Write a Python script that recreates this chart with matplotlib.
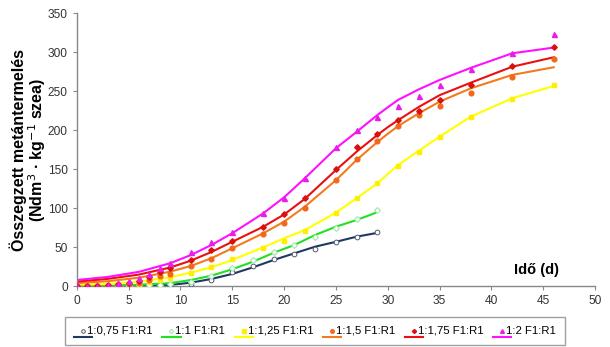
import matplotlib
matplotlib.use('Agg')
import matplotlib.pyplot as plt
from matplotlib.lines import Line2D
from matplotlib.legend_handler import HandlerBase

plt.rcParams['font.family'] = ['Liberation Sans', 'DejaVu Sans']

# measured points (days, cumulative methane)
days_a = [0, 1, 2, 3, 4, 5, 6, 7, 8, 9, 11, 13, 15, 17, 19, 21, 23, 25, 27, 29]
blue_pts = [0, 0, 0, 0, 0, 0, 0, 0.3, 0.5, 1, 2.5, 8, 18.3, 26.4, 35, 41.4, 47.8, 56.4, 62.8, 70]
green_pts = [0, 0, 0, 0, 0.3, 0.5, 1, 1.5, 2, 3, 5, 13, 24, 33.7, 44, 53, 63, 75, 86, 98]

days_b = [0, 1, 2, 3, 4, 5, 6, 7, 8, 9, 11, 13, 15, 18, 20, 22, 25, 27, 29, 31, 33, 35, 38, 42, 46]
yellow_pts = [0, 0, 0, 0.5, 1, 1.5, 3, 5, 8, 10, 17.5, 24.4, 35, 49.5, 58.5, 71, 94.5, 113, 132, 154, 172, 191.8, 216.7, 239.7, 258]
orange_pts = [0, 0, 0, 0.5, 1.5, 2.5, 4, 8, 13, 15.8, 26, 35.4, 48.7, 67, 81.5, 100, 136, 163, 186, 206, 219.6, 231, 248, 268.7, 291]
red_pts = [0, 0, 0, 1, 2.5, 4.6, 7.2, 12.3, 18.7, 23, 33.7, 46.5, 58, 76.4, 92.3, 112.8, 150, 178, 195, 213, 225, 238.8, 258.5, 282, 306.8]
magenta_pts = [0, 0, 0, 1.5, 4.6, 6.8, 10, 15.8, 23, 30, 44, 57, 69, 94.4, 112.8, 138.5, 179, 201, 216.7, 230.8, 243.6, 257.7, 278, 299.5, 323]

# fitted curves
fit_a = [0, 3, 6, 9, 11, 13, 15, 17, 19, 21, 23, 25, 27, 28.8]
blue_fit = [0, 0.3, 1, 1.7, 4.6, 9.4, 15.8, 24.3, 33.7, 42.3, 50.8, 57, 63.6, 68]
green_fit = [0, 0.5, 2, 4, 8, 13.6, 21.8, 31.5, 43, 53, 65.8, 76.4, 85, 94]

fit_b = [0, 3, 6, 9, 11, 13, 15, 18, 20, 22, 25, 27, 29, 30, 31, 33, 35, 38, 42, 46]
yellow_fit = [1.7, 3, 6, 11.5, 17.5, 24.3, 33.7, 50, 61.5, 72, 94.4, 112.8, 132, 144, 155.5, 173.8, 191.8, 217.4, 241, 256.8]
orange_fit = [4, 6.5, 11, 18.7, 26, 36, 48.7, 68, 82.8, 102, 136, 162, 185, 195.5, 205.5, 221.8, 236.7, 253.8, 271, 280.8]
red_fit = [6, 9.5, 15, 24, 32.8, 44, 57, 76.4, 92, 112, 149, 172.6, 194, 204, 213, 230, 245, 261, 281.5, 293.6]
magenta_fit = [8, 12, 18.5, 29.5, 40, 53, 68, 93.6, 114, 138.5, 177, 198, 219.6, 229.5, 239, 252.5, 264.5, 280, 298.7, 306]

labels = ['1:0,75 F1:R1', '1:1 F1:R1', '1:1,25 F1:R1', '1:1,5 F1:R1', '1:1,75 F1:R1', '1:2 F1:R1']

series = [
    (days_a, blue_pts, fit_a, blue_fit, '#1f3864', dict(marker='o', mfc='white', mec='#505a6a', ms=3.4, mew=0.7)),
    (days_a, green_pts, fit_a, green_fit, '#22e022', dict(marker='D', mfc='white', mec='#9be8a8', ms=3.0, mew=0.8)),
    (days_b, yellow_pts, fit_b, yellow_fit, '#ffff00', dict(marker='s', mfc='#ffee00', mec='#ffee00', ms=3.0)),
    (days_b, orange_pts, fit_b, orange_fit, '#f47a20', dict(marker='o', mfc='#f06818', mec='#f06818', ms=3.4)),
    (days_b, red_pts, fit_b, red_fit, '#e81010', dict(marker='D', mfc='#d81010', mec='#d81010', ms=2.8)),
    (days_b, magenta_pts, fit_b, magenta_fit, '#ff10ff', dict(marker='^', mfc='#e81ee8', mec='#e81ee8', ms=3.6)),
]

fig = plt.figure(figsize=(6.1, 3.47), dpi=100)
ax = fig.add_axes([0.1257, 0.175, 0.85, 0.7867])

handles = []
for xd, yd, xf, yf, col, mk in series:
    ax.plot(xf, yf, color=col, lw=1.5, zorder=2)
    m, = ax.plot(xd, yd, ls='none', zorder=3, **mk)
    ln = Line2D([], [], color=col, lw=1.5)
    handles.append((m, ln))


class MarkerOverLine(HandlerBase):
    def create_artists(self, legend, orig, xdescent, ydescent, width, height, fontsize, trans):
        m, ln = orig
        line = Line2D([0, width * 1.6], [-0.45 * height] * 2, color=ln.get_color(), lw=1.5, transform=trans)
        mark = Line2D([width * 0.8], [0.4 * height], ls='none', marker=m.get_marker(),
                      mfc=m.get_markerfacecolor(), mec=m.get_markeredgecolor(),
                      ms=m.get_markersize() * 0.75, mew=m.get_markeredgewidth(), transform=trans)
        return [line, mark]


ax.set_xlim(0, 50)
ax.set_ylim(0, 350)
ax.set_xticks(range(0, 51, 5))
ax.set_yticks(range(0, 351, 50))
for s in ['top', 'right']:
    ax.spines[s].set_visible(False)
for s in ['left', 'bottom']:
    ax.spines[s].set_color('#888888')
    ax.spines[s].set_linewidth(1.0)
ax.tick_params(colors='#888888', labelcolor='#333333', labelsize=8.6, length=3, width=0.8)

ax.set_ylabel('Összegzett metántermelés\n(Ndm$^3$ · kg$^{-1}$ szea)', fontsize=11.5,
              fontweight='bold', linespacing=0.95)
ax.yaxis.set_label_coords(-0.056, 0.5)
ax.text(46.5, 12, 'Idő (d)', fontsize=10.5, fontweight='bold', ha='right', va='bottom')

leg = fig.legend(handles, labels, handler_map={tuple: MarkerOverLine()}, loc='lower left',
                 bbox_to_anchor=(0.1066, 0.006, 0.82, 0.083), mode='expand', ncol=6,
                 fontsize=8.2, frameon=True, fancybox=False, handlelength=1.0,
                 handletextpad=0.15, columnspacing=1.0, borderpad=0.8, borderaxespad=0)
leg.get_frame().set_edgecolor('#888888')
leg.get_frame().set_linewidth(1.0)

fig.savefig('out.png', dpi=100)
